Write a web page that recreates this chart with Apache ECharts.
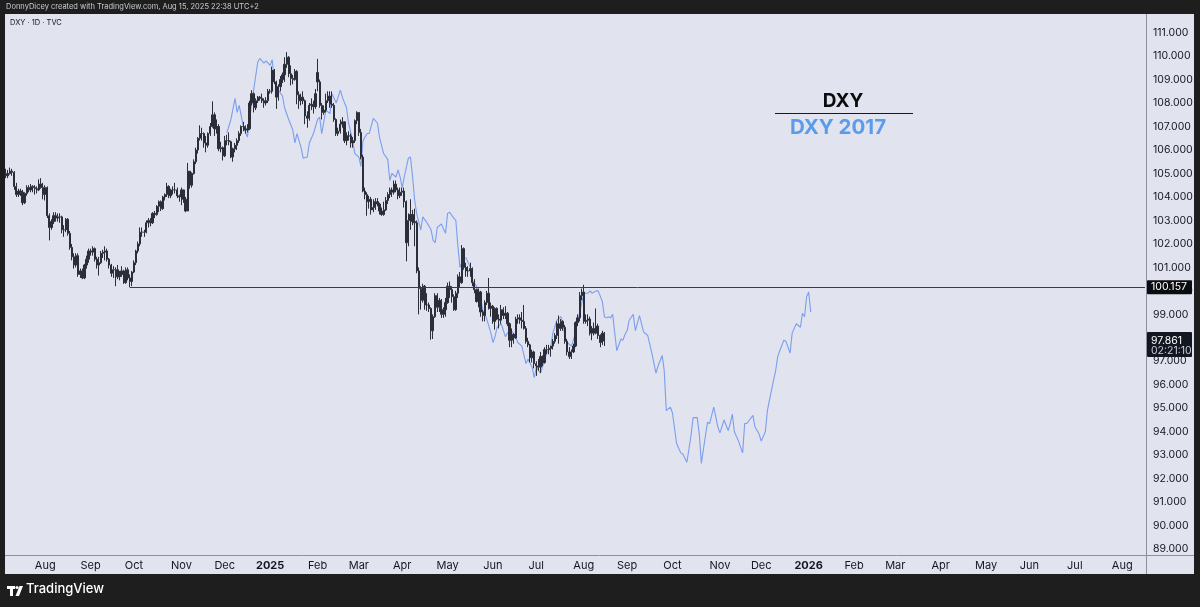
<!DOCTYPE html>
<html>
<head>
<meta charset="utf-8">
<script src="https://cdn.jsdelivr.net/npm/echarts@6/dist/echarts.min.js"></script>
<style>
  html, body { margin: 0; padding: 0; background: #1e1e1e; }
  #chart { width: 1200px; height: 607px; }
</style>
</head>
<body>
<div id="chart"></div>
<script>
// trading-day axis: weekdays from the first bar, extended into the future
const startDate = '2024-07-05';
const barCount = 553;
const monthNames = ['Jan', 'Feb', 'Mar', 'Apr', 'May', 'Jun', 'Jul', 'Aug', 'Sep', 'Oct', 'Nov', 'Dec'];

// DXY daily bars [open, high, low, close], one line per week
const dxyBars = [
  [105.0, 105.2, 104.8, 104.9],
  [104.9, 105.15, 104.8, 105.0], [105.0, 105.25, 104.95, 105.1], [105.1, 105.2, 104.9, 105.05], [105.05, 105.1, 104.3, 104.45], [104.45, 104.6, 104.0, 104.1],
  [104.1, 104.35, 104.0, 104.25], [104.25, 104.35, 104.05, 104.2], [104.2, 104.3, 103.65, 103.75], [103.75, 104.2, 103.7, 104.15], [104.15, 104.5, 104.05, 104.4],
  [104.4, 104.5, 104.2, 104.3], [104.3, 104.55, 104.2, 104.45], [104.45, 104.5, 104.2, 104.4], [104.4, 104.5, 104.1, 104.35], [104.35, 104.45, 104.15, 104.3],
  [104.3, 104.75, 104.25, 104.55], [104.55, 104.8, 104.35, 104.4], [104.4, 104.6, 103.9, 104.1], [104.1, 104.5, 103.85, 104.4], [104.4, 104.45, 103.1, 103.2],
  [103.2, 103.3, 102.15, 102.7], [102.7, 103.05, 102.6, 102.95], [102.95, 103.35, 102.85, 103.2], [103.2, 103.35, 102.95, 103.1], [103.1, 103.3, 102.95, 103.15],
  [103.15, 103.3, 102.9, 103.15], [103.15, 103.2, 102.45, 102.6], [102.6, 102.8, 102.3, 102.6], [102.6, 103.1, 102.5, 103.05], [103.05, 103.1, 102.35, 102.45],
  [102.45, 102.55, 101.75, 101.85], [101.85, 102.0, 101.3, 101.45], [101.45, 101.6, 100.95, 101.1], [101.1, 101.6, 101.0, 101.5], [101.5, 101.6, 100.6, 100.7],
  [100.7, 100.95, 100.55, 100.85], [100.85, 100.95, 100.5, 100.55], [100.55, 101.15, 100.5, 101.1], [101.1, 101.5, 100.95, 101.35], [101.35, 101.8, 101.2, 101.7],
  [101.7, 101.8, 101.5, 101.65], [101.65, 101.9, 101.5, 101.8], [101.8, 101.85, 101.25, 101.35], [101.35, 101.45, 100.95, 101.1], [101.1, 101.45, 100.65, 101.2],
  [101.2, 101.7, 101.15, 101.6], [101.6, 101.75, 101.4, 101.65], [101.65, 101.9, 101.3, 101.7], [101.7, 101.8, 101.25, 101.35], [101.35, 101.4, 100.95, 101.1],
  [101.1, 101.15, 100.6, 100.75], [100.75, 101.05, 100.55, 100.9], [100.9, 101.0, 100.2, 100.9], [100.9, 101.1, 100.5, 100.6], [100.6, 100.85, 100.45, 100.7],
  [100.7, 101.05, 100.6, 100.85], [100.85, 100.9, 100.3, 100.35], [100.35, 101.0, 100.3, 100.9], [100.9, 101.0, 100.45, 100.55], [100.55, 100.7, 100.157, 100.4],
  [100.4, 100.85, 100.2, 100.8], [100.8, 101.3, 100.75, 101.2], [101.2, 101.75, 101.1, 101.7], [101.7, 102.1, 101.6, 102.0], [102.0, 102.7, 101.9, 102.5],
  [102.5, 102.7, 102.3, 102.5], [102.5, 102.6, 102.3, 102.5], [102.5, 103.0, 102.45, 102.9], [102.9, 103.1, 102.7, 103.0], [103.0, 103.1, 102.75, 102.9],
  [102.9, 103.35, 102.85, 103.3], [103.3, 103.4, 103.1, 103.25], [103.25, 103.65, 103.2, 103.6], [103.6, 103.85, 103.35, 103.8], [103.8, 103.85, 103.4, 103.5],
  [103.5, 104.05, 103.45, 104.0], [104.0, 104.15, 103.85, 104.1], [104.1, 104.6, 104.0, 104.45], [104.45, 104.5, 103.95, 104.05], [104.05, 104.35, 103.95, 104.3],
  [104.3, 104.45, 104.1, 104.3], [104.3, 104.6, 104.15, 104.3], [104.3, 104.4, 103.95, 104.05], [104.05, 104.1, 103.8, 104.0], [104.0, 104.4, 103.65, 104.3],
  [104.3, 104.3, 103.75, 103.9], [103.9, 104.0, 103.35, 103.4], [103.4, 105.45, 103.4, 105.1], [105.1, 105.1, 104.35, 104.5], [104.5, 105.05, 104.4, 105.0],
  [105.0, 105.6, 104.95, 105.5], [105.5, 106.1, 105.4, 106.0], [106.0, 106.55, 105.85, 106.5], [106.5, 107.05, 106.4, 106.7], [106.7, 106.95, 106.4, 106.7],
  [106.7, 106.75, 106.1, 106.3], [106.3, 106.6, 105.9, 106.2], [106.2, 106.75, 106.1, 106.7], [106.7, 107.15, 106.6, 107.0], [107.0, 108.07, 106.95, 107.5],
  [107.5, 107.6, 106.6, 106.9], [106.9, 107.3, 106.7, 107.0], [107.0, 107.1, 105.95, 106.05], [106.05, 106.35, 105.9, 106.1], [106.1, 106.15, 105.55, 105.75],
  [105.75, 106.6, 105.7, 106.4], [106.4, 106.65, 106.2, 106.4], [106.4, 106.75, 106.2, 106.35], [106.35, 106.4, 105.65, 105.7], [105.7, 106.1, 105.5, 106.05],
  [106.05, 106.3, 105.9, 106.2], [106.2, 106.5, 106.0, 106.4], [106.4, 106.8, 106.3, 106.7], [106.7, 107.05, 106.6, 107.0], [107.0, 107.2, 106.8, 107.0],
  [107.0, 107.05, 106.7, 106.85], [106.85, 107.1, 106.75, 106.9], [106.9, 108.1, 106.85, 108.0], [108.0, 108.55, 107.9, 108.4], [108.4, 108.45, 107.6, 107.8],
  [107.8, 108.2, 107.7, 108.1], [108.1, 108.3, 108.0, 108.25], [108.25, 108.3, 108.1, 108.2], [108.2, 108.4, 108.0, 108.1], [108.1, 108.2, 107.8, 108.0],
  [108.0, 108.25, 107.9, 108.1], [108.1, 108.6, 108.0, 108.5], [108.5, 108.6, 108.4, 108.5], [108.5, 109.55, 108.4, 109.4], [109.4, 109.45, 108.8, 108.9],
  [108.9, 108.95, 107.75, 108.25], [108.25, 108.8, 108.1, 108.7], [108.7, 109.15, 108.5, 109.0], [109.0, 109.3, 108.85, 109.2], [109.2, 109.95, 108.9, 109.65],
  [109.65, 110.17, 109.5, 109.95], [109.95, 110.0, 109.1, 109.25], [109.25, 109.6, 108.75, 109.05], [109.05, 109.2, 108.8, 109.0], [109.0, 109.45, 108.95, 109.35],
  [109.35, 109.4, 107.95, 108.35], [108.35, 108.5, 107.75, 108.1], [108.1, 108.4, 107.9, 108.25], [108.25, 108.5, 107.95, 108.1], [108.1, 108.15, 107.1, 107.45],
  [107.45, 107.65, 106.95, 107.35], [107.35, 108.0, 107.25, 107.9], [107.9, 108.2, 107.7, 107.95], [107.95, 108.1, 107.55, 107.85], [107.85, 108.6, 107.75, 108.4],
  [109.3, 109.88, 108.5, 108.9], [108.9, 109.0, 107.8, 107.9], [107.9, 108.0, 107.3, 107.6], [107.6, 107.9, 107.5, 107.7], [107.7, 108.4, 107.6, 108.1],
  [108.1, 108.5, 108.0, 108.3], [108.3, 108.5, 107.8, 107.95], [107.95, 108.5, 107.8, 107.9], [107.9, 108.0, 107.2, 107.3], [107.3, 107.35, 106.6, 106.7],
  [106.7, 106.95, 106.6, 106.8], [106.8, 107.3, 106.7, 107.1], [107.1, 107.4, 106.95, 107.2], [107.2, 107.2, 106.3, 106.4], [106.4, 106.75, 106.2, 106.6],
  [106.6, 106.8, 106.4, 106.6], [106.6, 106.7, 106.1, 106.3], [106.3, 106.55, 106.1, 106.4], [106.4, 107.3, 106.3, 107.25], [107.25, 107.65, 107.1, 107.6],
  [107.6, 107.6, 106.6, 106.75], [106.75, 106.9, 105.6, 105.7], [105.7, 105.8, 104.2, 104.25], [104.25, 104.4, 103.9, 104.1], [104.1, 104.2, 103.2, 103.8],
  [103.8, 104.05, 103.5, 103.9], [103.9, 104.0, 103.25, 103.45], [103.45, 103.9, 103.35, 103.55], [103.55, 103.95, 103.45, 103.8], [103.8, 103.95, 103.6, 103.7],
  [103.7, 103.75, 103.25, 103.4], [103.4, 103.55, 103.2, 103.25], [103.25, 103.8, 103.2, 103.45], [103.45, 104.0, 103.4, 103.85], [103.85, 104.2, 103.7, 104.1],
  [104.1, 104.4, 103.95, 104.3], [104.3, 104.4, 104.0, 104.2], [104.2, 104.7, 104.1, 104.55], [104.55, 104.7, 104.2, 104.3], [104.3, 104.4, 103.9, 104.05],
  [104.05, 104.4, 103.95, 104.2], [104.2, 104.4, 104.05, 104.25], [104.25, 104.4, 103.55, 103.8], [103.8, 103.85, 101.26, 102.05], [102.05, 103.3, 101.9, 103.0],
  [103.0, 103.9, 102.6, 103.25], [103.25, 103.45, 102.8, 102.95], [102.95, 103.5, 101.9, 102.9], [102.9, 103.0, 100.75, 100.85], [100.85, 101.0, 99.0, 100.1],
  [100.1, 100.2, 99.2, 99.6], [99.6, 100.3, 99.5, 100.2], [100.2, 100.25, 99.2, 99.4], [99.4, 99.9, 99.15, 99.4], [99.4, 99.5, 99.1, 99.25],
  [99.25, 99.3, 97.92, 98.3], [98.3, 99.0, 97.95, 98.9], [98.9, 99.9, 98.85, 99.8], [99.8, 99.9, 99.1, 99.3], [99.3, 99.7, 99.1, 99.6],
  [99.6, 99.65, 98.85, 99.0], [99.0, 99.3, 98.85, 99.2], [99.2, 99.7, 98.9, 99.5], [99.5, 100.35, 99.45, 100.2], [100.2, 100.4, 99.7, 100.05],
  [100.05, 100.2, 99.5, 99.75], [99.75, 99.85, 99.15, 99.2], [99.2, 100.0, 99.15, 99.9], [99.9, 100.7, 99.7, 100.6], [100.6, 100.8, 100.15, 100.35],
  [100.35, 101.95, 100.3, 101.8], [101.8, 101.85, 100.9, 101.0], [101.0, 101.2, 100.6, 100.85], [100.85, 101.05, 100.6, 100.85], [100.85, 101.2, 100.6, 100.95],
  [100.95, 101.0, 100.2, 100.35], [100.35, 100.5, 99.9, 100.05], [100.05, 100.1, 99.5, 99.55], [99.55, 100.1, 99.3, 99.95], [99.95, 100.0, 98.9, 99.1],
  [99.1, 99.2, 98.7, 98.95], [98.95, 99.6, 98.7, 99.5], [99.5, 100.0, 99.4, 99.9], [99.9, 100.55, 99.2, 99.25], [99.25, 99.5, 98.9, 99.35],
  [99.35, 99.4, 98.6, 98.7], [98.7, 99.3, 98.35, 99.25], [99.25, 99.3, 98.75, 98.8], [98.8, 99.0, 98.4, 98.75], [98.75, 99.4, 98.6, 99.2],
  [99.2, 99.3, 98.8, 98.95], [98.95, 99.35, 98.8, 99.05], [99.05, 99.1, 98.5, 98.6], [98.6, 98.65, 97.6, 97.9], [97.9, 98.4, 97.6, 98.15],
  [98.15, 98.2, 97.75, 98.0], [98.0, 98.9, 97.95, 98.8], [98.8, 99.0, 98.6, 98.85], [98.85, 99.0, 98.6, 98.75], [98.75, 99.1, 98.4, 98.7],
  [98.7, 99.4, 98.35, 98.4], [98.4, 98.5, 97.75, 97.85], [97.85, 98.0, 97.6, 97.7], [97.7, 97.75, 96.95, 97.15], [97.15, 97.5, 96.95, 97.4],
  [97.4, 97.45, 96.7, 96.9], [96.9, 97.0, 96.38, 96.8], [96.8, 97.1, 96.6, 96.75], [96.75, 97.4, 96.5, 97.2], [97.2, 97.25, 96.8, 96.95],
  [96.95, 97.6, 96.9, 97.5], [97.5, 97.7, 97.3, 97.5], [97.5, 97.7, 97.3, 97.55], [97.55, 97.65, 97.2, 97.65], [97.65, 97.95, 97.5, 97.85],
  [97.85, 98.2, 97.75, 98.1], [98.1, 98.7, 97.95, 98.6], [98.6, 98.95, 97.75, 98.4], [98.4, 98.8, 98.3, 98.7], [98.7, 98.75, 98.3, 98.45],
  [98.45, 98.55, 97.75, 97.85], [97.85, 97.95, 97.25, 97.4], [97.4, 97.6, 97.1, 97.2], [97.2, 97.5, 97.1, 97.4], [97.4, 97.75, 97.35, 97.65],
  [97.65, 98.7, 97.6, 98.65], [98.65, 99.0, 98.5, 98.85], [98.85, 99.95, 98.7, 99.8], [99.8, 100.1, 99.6, 99.95], [99.95, 100.26, 98.6, 98.7],
  [98.7, 99.0, 98.6, 98.75], [98.75, 99.0, 98.5, 98.8], [98.8, 98.9, 98.1, 98.2], [98.2, 98.5, 97.9, 98.4], [98.4, 98.65, 98.1, 98.2],
  [98.2, 99.25, 98.15, 98.5], [98.5, 98.6, 97.95, 98.1], [98.1, 98.15, 97.6, 97.8], [97.8, 98.3, 97.7, 98.2], [98.2, 98.25, 97.65, 97.861]
];

// DXY 2017 overlay, [trading-day index, value]
const dxy2017 = [
  [107, 106.73], [109, 107.3], [111, 108.2], [112, 107.6], [113, 107.9], [115, 107.0], [117, 106.55], [118, 107.3],
  [120, 108.55], [122, 109.75], [123, 109.9], [125, 109.7], [126, 109.8], [128, 109.6], [129, 109.85], [130, 108.95],
  [132, 108.55], [134, 108.3], [135, 107.8], [137, 107.3], [139, 106.85], [140, 106.3], [141, 106.7], [143, 106.1],
  [144, 105.65], [146, 105.7], [147, 106.3], [149, 106.7], [151, 107.3], [152, 107.4], [153, 106.7], [155, 107.7],
  [157, 107.55], [158, 108.4], [160, 108.0], [162, 108.55], [163, 108.25], [165, 107.8], [166, 107.15], [168, 106.4],
  [169, 105.85], [171, 105.7], [172, 105.3], [173, 106.4], [175, 106.7], [176, 106.7], [178, 107.35], [180, 107.15],
  [181, 106.55], [183, 105.85], [185, 105.6], [186, 104.7], [187, 105.0], [189, 104.85], [190, 105.15], [191, 104.85],
  [192, 104.4], [193, 104.85], [195, 105.65], [196, 105.7], [197, 104.9], [198, 103.9], [199, 103.3], [201, 102.6],
  [202, 103.15], [204, 102.9], [206, 102.6], [207, 102.15], [208, 102.05], [209, 102.7], [211, 102.85], [213, 102.45],
  [214, 103.3], [215, 103.35], [217, 103.1], [218, 103.0], [219, 101.9], [220, 101.0], [222, 101.4], [223, 101.4],
  [225, 101.0], [226, 100.45], [228, 100.2], [230, 99.75], [231, 99.2], [233, 98.8], [235, 98.2], [236, 97.8],
  [237, 98.05], [238, 98.45], [240, 98.6], [242, 98.05], [243, 98.2], [245, 98.3], [247, 98.05], [248, 97.8],
  [250, 97.65], [252, 96.9], [253, 97.1], [255, 96.75], [256, 96.3], [257, 96.75], [259, 96.5], [260, 96.75],
  [262, 97.35], [264, 97.6], [265, 98.2], [267, 98.75], [269, 98.9], [270, 98.5], [271, 98.05], [272, 97.8],
  [274, 97.65], [276, 98.2], [277, 98.75], [278, 99.05], [280, 99.9], [282, 99.9], [283, 100.0], [284, 99.9],
  [286, 100.0], [287, 100.0], [289, 99.55], [290, 98.9], [291, 98.85], [292, 98.9], [293, 98.85], [294, 99.0],
  [296, 97.45], [298, 97.95], [299, 97.9], [300, 98.15], [301, 98.3], [302, 98.75], [304, 99.0], [305, 98.3],
  [307, 98.95], [309, 98.25], [311, 98.1], [313, 97.35], [315, 96.5], [316, 96.8], [318, 97.25], [319, 96.6],
  [320, 94.9], [322, 95.05], [323, 94.8], [325, 93.5], [327, 93.1], [328, 93.05], [330, 92.7], [332, 93.85],
  [333, 94.6], [335, 94.6], [336, 93.9], [337, 92.65], [339, 93.85], [340, 94.4], [341, 94.35], [343, 95.05],
  [345, 94.2], [346, 93.95], [348, 94.5], [350, 94.05], [351, 94.35], [352, 94.75], [353, 94.0], [355, 93.6],
  [357, 93.1], [358, 94.35], [359, 94.35], [362, 94.7], [363, 94.2], [365, 93.9], [366, 93.6], [368, 94.0],
  [369, 94.9], [370, 95.35], [372, 96.2], [373, 96.6], [374, 97.2], [375, 97.45], [377, 97.9], [378, 97.85],
  [380, 97.35], [381, 98.2], [383, 98.6], [385, 98.45], [386, 99.05], [387, 98.9], [388, 99.75], [389, 99.95],
  [390, 99.1]
];

const levelStartIndex = 60;   // Sep 27 2024 low
const levelValue = 100.157;
const lastClose = 97.861;
const countdown = '02:21:10';

// build the weekday list
const dates = [];
let d = new Date(startDate + 'T00:00:00Z');
while (dates.length < barCount) {
  const wd = d.getUTCDay();
  if (wd !== 0 && wd !== 6) dates.push(d.toISOString().slice(0, 10));
  d = new Date(d.getTime() + 86400000);
}

const candleData = dxyBars.map(b => [b[0], b[3], b[2], b[1]]);
const font = 'Inter, Roboto, "Noto Sans", sans-serif';
const barColor = '#2b2e38';

const chart = echarts.init(document.getElementById('chart'));

const graphics = [
  // chart panel
  { type: 'rect', z: -100, shape: { x: 5, y: 14, width: 1189, height: 560 }, style: { fill: '#e1e3ee' } },
  { type: 'line', z: 50, shape: { x1: 1146.5, y1: 14, x2: 1146.5, y2: 574 }, style: { stroke: '#8d909c', lineWidth: 1 } },
  { type: 'line', z: 50, shape: { x1: 5, y1: 555.5, x2: 1194, y2: 555.5 }, style: { stroke: '#8d909c', lineWidth: 1 } },
  // header
  { type: 'text', left: 6, top: 3, style: { text: 'DonnyDicey created with TradingView.com, Aug 15, 2025 22:38 UTC+2', fill: '#c9cbd2', font: '7.5px ' + font } },
  { type: 'text', left: 10, top: 19, style: { text: 'DXY · 1D · TVC', fill: '#131722', font: '7.5px ' + font } },
  // legend
  { type: 'text', x: 843, y: 101, style: { text: 'DXY', fill: '#0c0c0c', font: 'bold 19px ' + font, align: 'center', verticalAlign: 'middle' } },
  { type: 'line', shape: { x1: 775, y1: 113.5, x2: 913, y2: 113.5 }, style: { stroke: '#1a1a1a', lineWidth: 1 } },
  { type: 'text', x: 838, y: 128, style: { text: 'DXY 2017', fill: '#5b9bec', font: 'bold 20.5px ' + font, align: 'center', verticalAlign: 'middle' } },
  // footer logo
  { type: 'rect', shape: { x: 7, y: 586, width: 8, height: 3 }, style: { fill: '#ffffff' } },
  { type: 'rect', shape: { x: 10, y: 586, width: 3, height: 10 }, style: { fill: '#ffffff' } },
  { type: 'circle', shape: { cx: 17, cy: 587.5, r: 1.6 }, style: { fill: '#ffffff' } },
  { type: 'polygon', shape: { points: [[19.5, 586], [23, 586], [19, 596], [15.5, 596]] }, style: { fill: '#ffffff' } },
  { type: 'text', left: 26, top: 583, style: { text: 'TradingView', fill: '#ffffff', font: '500 13px ' + font } }
];

const option = {
  animation: false,
  backgroundColor: '#1e1e1e',
  grid: { left: 5, right: 54, top: 15, height: 540 },
  xAxis: {
    type: 'category',
    data: dates,
    boundaryGap: true,
    axisLine: { show: false },
    axisTick: { show: false },
    splitLine: { show: false },
    axisLabel: {
      margin: 5,
      color: '#131722',
      fontSize: 11,
      fontFamily: font,
      interval: (i, v) => i > 0 && v.slice(5, 7) !== dates[i - 1].slice(5, 7),
      formatter: v => {
        const m = parseInt(v.slice(5, 7), 10) - 1;
        return m === 0 ? '{b|' + v.slice(0, 4) + '}' : monthNames[m];
      },
      rich: { b: { fontWeight: 'bold', fontSize: 11, color: '#131722', fontFamily: font } }
    }
  },
  yAxis: {
    type: 'value',
    position: 'right',
    min: 88.75,
    max: 111.75,
    interval: 0.25,
    axisLine: { show: false },
    axisTick: { show: false },
    splitLine: { show: false },
    axisLabel: {
      margin: 7,
      color: '#131722',
      fontSize: 10.5,
      fontFamily: font,
      formatter: v => Math.abs(v - Math.round(v)) < 1e-6 ? Math.round(v).toFixed(3) : ''
    }
  },
  series: [
    {
      name: 'DXY 2017',
      type: 'line',
      z: 1,
      data: dxy2017,
      symbol: 'none',
      lineStyle: { color: '#7a9ef0', width: 1.1 }
    },
    {
      name: 'DXY',
      type: 'candlestick',
      z: 3,
      data: candleData,
      barWidth: 1.7,
      itemStyle: { color: barColor, color0: barColor, borderColor: barColor, borderColor0: barColor, borderWidth: 1 },
      markLine: {
        symbol: 'none',
        silent: true,
        label: { show: false },
        lineStyle: { color: '#3a3d48', width: 1, type: 'solid' },
        data: [[{ coord: [levelStartIndex, levelValue] }, { coord: [barCount - 1, levelValue] }]]
      }
    }
  ],
  graphic: graphics
};

chart.setOption(option);

// price tags on the price scale
const yLevel = chart.convertToPixel({ yAxisIndex: 0 }, levelValue);
const yLast = chart.convertToPixel({ yAxisIndex: 0 }, lastClose);
graphics.push(
  { type: 'rect', z: 60, shape: { x: 1147, y: yLevel - 7, width: 45, height: 14, r: 1 }, style: { fill: '#0b0c10' } },
  { type: 'text', z: 61, x: 1151, y: yLevel, style: { text: levelValue.toFixed(3), fill: '#ffffff', font: '10.5px ' + font, verticalAlign: 'middle' } },
  { type: 'rect', z: 60, shape: { x: 1147, y: yLast - 9, width: 45, height: 25, r: 1 }, style: { fill: '#131722' } },
  { type: 'text', z: 61, x: 1151, y: yLast, style: { text: lastClose.toFixed(3), fill: '#ffffff', font: '10.5px ' + font, verticalAlign: 'middle' } },
  { type: 'text', z: 61, x: 1151, y: yLast + 10, style: { text: countdown, fill: '#c9cbd2', font: '10.5px ' + font, verticalAlign: 'middle' } }
);
chart.setOption({ graphic: graphics });
</script>
</body>
</html>
